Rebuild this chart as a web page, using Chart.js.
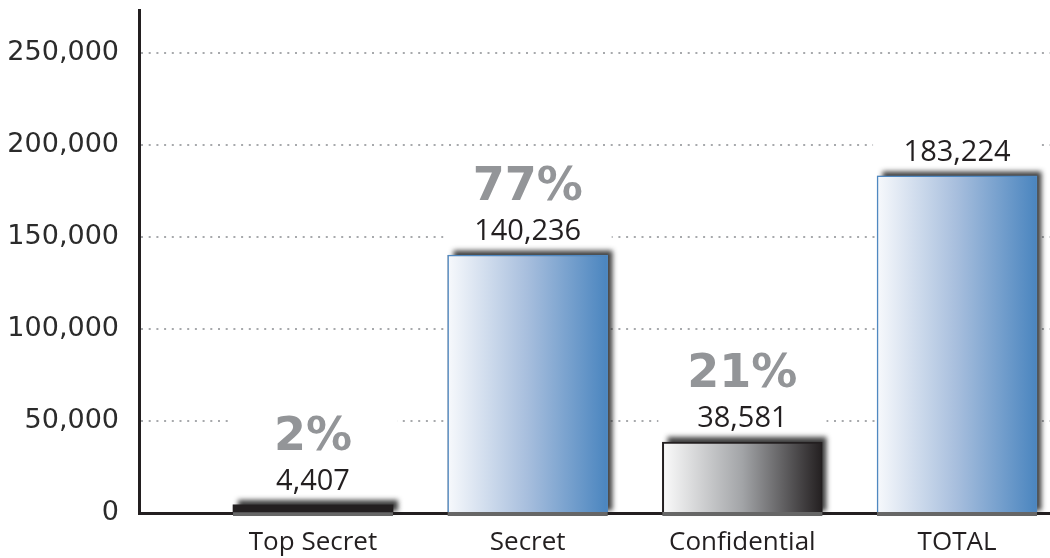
<!DOCTYPE html>
<html>
<head>
<meta charset="utf-8">
<script src="https://cdn.jsdelivr.net/npm/chart.js@4"></script>
<style>
  html, body { margin: 0; padding: 0; background: #fff; }
  #wrap { width: 1050px; height: 558px; }
</style>
</head>
<body>
<div id="wrap"><canvas id="chart" width="1050" height="558"></canvas></div>
<script>
// data
const categories = ["Top Secret", "Secret", "Confidential", "TOTAL"];
const values = [4407, 140236, 38581, 183224];
const percents = ["2%", "77%", "21%", ""];
const yTicks = [0, 50000, 100000, 150000, 200000, 250000];

const ink = "#231f20";
const barKinds = ["solid", "blue", "gray", "blue"];

function barFill(c) {
  const chart = c.chart;
  if (!chart.chartArea) return ink;
  const kind = barKinds[c.dataIndex];
  if (kind === "solid") return ink;
  const cx = chart.scales.x.getPixelForValue(c.dataIndex);
  const g = chart.ctx.createLinearGradient(cx - 80, 0, cx + 80, 0);
  if (kind === "blue") {
    g.addColorStop(0, "#f7f9fc");
    g.addColorStop(0.5, "#a7bedd");
    g.addColorStop(1, "#4a85bf");
  } else {
    g.addColorStop(0, "#fbfbfb");
    g.addColorStop(0.5, "#a2a4a7");
    g.addColorStop(1, "#231f20");
  }
  return g;
}

// white boxes behind the labels, then the bar shadows
const underBars = {
  id: "underBars",
  beforeDatasetsDraw(chart) {
    const ctx = chart.ctx;
    const meta = chart.getDatasetMeta(0);
    meta.data.forEach((bar, i) => {
      const { x, y, base, width } = bar.getProps(["x", "y", "base", "width"], true);
      // clear the dotted grid around the labels
      ctx.save();
      ctx.fillStyle = "#fff";
      const top = percents[i] ? y - 95 : y - 50;
      ctx.fillRect(x - width / 2 - 4, top, width + 8, y - 8 - top);
      ctx.restore();
      // drop shadow up and to the right
      ctx.save();
      ctx.shadowColor = "rgba(30,30,30,0.85)";
      ctx.shadowBlur = 5;
      ctx.shadowOffsetX = 5;
      ctx.shadowOffsetY = -5;
      ctx.fillStyle = "#666";
      ctx.fillRect(x - width / 2, y, width, base - y + 4);
      ctx.restore();
    });
  },
  afterDatasetsDraw(chart) {
    const ctx = chart.ctx;
    const meta = chart.getDatasetMeta(0);
    ctx.save();
    ctx.textAlign = "center";
    ctx.textBaseline = "alphabetic";
    meta.data.forEach((bar, i) => {
      const { x, y } = bar.getProps(["x", "y"], true);
      const vy = y - 15;
      ctx.fillStyle = ink;
      ctx.font = "29px 'Open Sans'";
      ctx.fillText(values[i].toLocaleString("en-US"), x, vy);
      if (percents[i]) {
        ctx.fillStyle = "#939598";
        ctx.font = "bold 46px 'DejaVu Sans'";
        ctx.fillText(percents[i], x, vy - 40);
      }
    });
    ctx.restore();
  }
};

new Chart(document.getElementById("chart"), {
  type: "bar",
  data: {
    datasets: [{
      data: categories.map((c, i) => ({ x: i, y: values[i] })),
      backgroundColor: barFill,
      borderColor: c => barKinds[c.dataIndex] === "gray" ? ink : "#4f88c1",
      borderWidth: c => barKinds[c.dataIndex] === "solid" ? 0 : (barKinds[c.dataIndex] === "gray" ? 2 : 1.5),
      barThickness: 160
    }]
  },
  options: {
    responsive: false,
    animation: false,
    layout: { padding: { top: 10, left: 0, right: 0, bottom: 0 } },
    plugins: {
      legend: { display: false },
      tooltip: { enabled: false }
    },
    scales: {
      x: {
        type: "linear",
        offset: false,
        min: -0.8106,
        max: 3.433,
        afterBuildTicks: axis => { axis.ticks = categories.map((c, i) => ({ value: i })); },
        afterFit: axis => { axis.height = 45; axis.paddingLeft = 0; axis.paddingRight = 0; },
        grid: { display: false, drawTicks: false },
        border: { display: true, color: ink, width: 3 },
        ticks: {
          padding: 14,
          color: ink,
          font: { family: "'Open Sans'", size: 26 },
          autoSkip: false,
          maxRotation: 0,
          callback: v => categories[v] ?? ""
        }
      },
      y: {
        min: 0,
        max: 273400,
        afterBuildTicks: axis => { axis.ticks = yTicks.map(v => ({ value: v })); },
        afterFit: axis => { axis.width = 139; axis.paddingTop = 0; axis.paddingBottom = 0; },
        grid: { color: "#a7a9ac", lineWidth: 2, drawTicks: false },
        border: { display: true, color: ink, width: 3, dash: [2, 5.7] },
        ticks: {
          padding: 20,
          color: "#2b2b2b",
          font: { family: "'DejaVu Sans'", size: 27 },
          callback: v => v.toLocaleString("en-US")
        }
      }
    }
  },
  plugins: [underBars]
});
</script>
</body>
</html>
